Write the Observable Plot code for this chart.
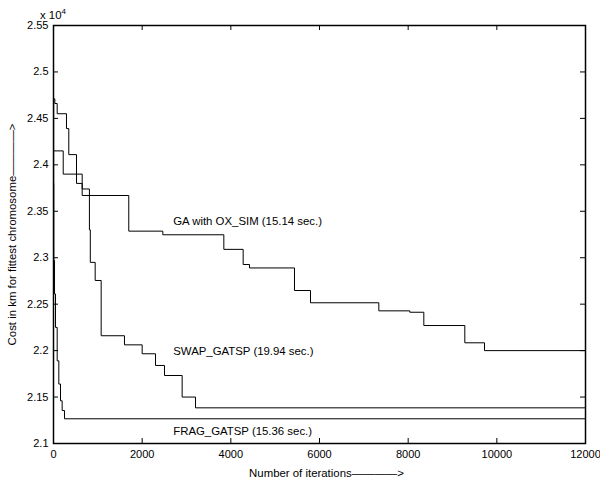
<!DOCTYPE html>
<html><head><meta charset="utf-8">
<script src="https://cdn.jsdelivr.net/npm/d3@7"></script>
<script src="https://cdn.jsdelivr.net/npm/@observablehq/plot@0.6"></script>
<style>body{margin:0;background:#fff}</style>
</head><body><div id="chart"></div>
<script>
// Tick values / labels
const xTicks = [0, 2000, 4000, 6000, 8000, 10000, 12000];
const yTicks = [2.1, 2.15, 2.2, 2.25, 2.3, 2.35, 2.4, 2.45, 2.5, 2.55];

// Series (cost in km x 10^4 vs iteration), step-wise
const gaName = "GA with OX_SIM (15.14 sec.)";
const gaX = [0, 219, 647, 1698, 2466, 3842, 4278, 4421, 5436, 5797, 7338, 8037, 8353, 9278, 9722, 12000];
const gaY = [2.415, 2.390, 2.367, 2.3286, 2.3247, 2.309, 2.2927, 2.289, 2.2647, 2.2515, 2.2428, 2.2413, 2.227, 2.2084, 2.2, 2.2];

const swapName = "SWAP_GATSP (19.94 sec.)";
const swapX = [0, 30, 83, 293, 345, 519, 647, 810, 830, 940, 1075, 1601, 2000, 2301, 2504, 2902, 3203, 12000];
const swapY = [2.471, 2.466, 2.455, 2.439, 2.411, 2.380, 2.374, 2.33, 2.295, 2.2755, 2.216, 2.2062, 2.1966, 2.184, 2.1732, 2.150, 2.1384, 2.1384];

const fragName = "FRAG_GATSP (15.36 sec.)";
const fragX = [0, 3, 7, 23, 45, 83, 120, 158, 195, 248, 12000];
const fragY = [2.47, 2.38, 2.297, 2.261, 2.225, 2.189, 2.164, 2.146, 2.1355, 2.1266, 2.1266];

// Annotation anchor points (data coordinates)
const labelNames = [gaName, swapName, fragName];
const labelX = [2700, 2700, 2700];
const labelY = [2.3387, 2.1987, 2.1131];

const xTitle = "Number of iterations\u2014\u2014\u2014\u2014>";
const yTitle = "Cost in km for fittest chromosome\u2014\u2014\u2014\u2014>";

const rows = [];
[[gaName, gaX, gaY], [swapName, swapX, swapY], [fragName, fragX, fragY]].forEach(([n, xs, ys]) => {
  xs.forEach((x, i) => rows.push({series: n, x, y: ys[i]}));
});
const labels = labelNames.map((t, i) => ({t, x: labelX[i], y: labelY[i]}));

const W = 600, H = 482, mL = 53, mR = 15, mT = 25, mB = 39;
const iw = W - mL - mR, ih = H - mT - mB, tl = 5;

const chart = Plot.plot({
  width: W, height: H,
  marginLeft: mL, marginRight: mR, marginTop: mT, marginBottom: mB,
  style: {fontFamily: "'Liberation Sans', Arial, Helvetica, sans-serif", fontSize: "11px", background: "white", color: "black", overflow: "visible"},
  x: {domain: [0, 12000]},
  y: {domain: [2.1, 2.55]},
  marks: [
    Plot.axisX({ticks: xTicks, tickSize: 0, tickPadding: 7, tickFormat: d => String(d), label: null}),
    Plot.axisY({ticks: yTicks, tickSize: 0, tickPadding: 5, tickFormat: d => String(Math.round(d * 100) / 100), label: null}),
    Plot.ruleX(xTicks, {x: d => d, insetTop: ih - tl, stroke: "black"}),
    Plot.ruleX(xTicks, {x: d => d, insetBottom: ih - tl, stroke: "black"}),
    Plot.ruleY(yTicks, {y: d => d, insetRight: iw - tl, stroke: "black"}),
    Plot.ruleY(yTicks, {y: d => d, insetLeft: iw - tl, stroke: "black"}),
    Plot.line(rows, {x: "x", y: "y", z: "series", curve: "step-after", stroke: "black", strokeWidth: 1}),
    Plot.text(labels, {x: "x", y: "y", text: "t", textAnchor: "start", lineAnchor: "middle", fontSize: 11.4, fill: "black"}),
    Plot.text([xTitle], {frameAnchor: "bottom", dx: 7, dy: 30, textAnchor: "middle", lineAnchor: "middle", fontSize: 11.4, fill: "black"}),
    Plot.text([yTitle], {frameAnchor: "left", dx: -41, dy: 0, rotate: -90, textAnchor: "middle", lineAnchor: "middle", fontSize: 11.4, fill: "black"}),
    Plot.frame({stroke: "black", strokeWidth: 1.5})
  ]
});

const svg = d3.select(chart);
const ex = svg.append("text").attr("x", mL).attr("y", 19)
  .attr("font-family", "'Liberation Sans', Arial, sans-serif").attr("font-size", 11.4).attr("fill", "black");
ex.append("tspan").text("x 10");
ex.append("tspan").attr("dy", -5).attr("font-size", 8).text("4");

document.getElementById("chart").appendChild(chart);
</script>
</body></html>
